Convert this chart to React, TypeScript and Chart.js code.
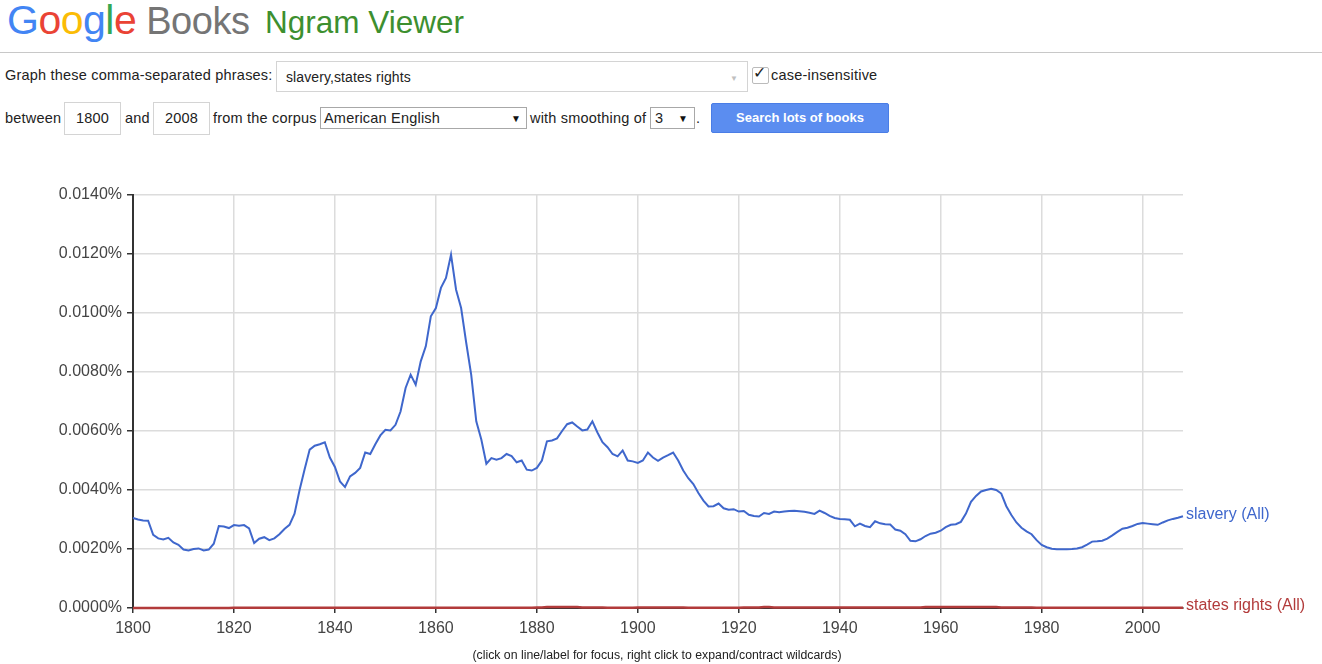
import React, { useEffect, useRef } from "react";
import { Chart, registerables } from "chart.js";

Chart.register(...registerables);

// ---------- data ----------
const startYear = 1800;

// slavery (All), percent, one value per year 1800..2008
const slavery = [
  0.00305, 0.00300, 0.00297, 0.00296, 0.00248, 0.00236, 0.00232, 0.00238, 0.00222, 0.00214,
  0.00198, 0.00195, 0.00200, 0.00202, 0.00195, 0.00198, 0.00218, 0.00278, 0.00276, 0.00271,
  0.00281, 0.00279, 0.00281, 0.00270, 0.00220, 0.00235, 0.00240, 0.00230, 0.00236, 0.00250,
  0.00268, 0.00282, 0.00320, 0.00400, 0.00470, 0.00537, 0.00550, 0.00555, 0.00562, 0.00510,
  0.00478, 0.00429, 0.00410, 0.00446, 0.00458, 0.00475, 0.00527, 0.00522, 0.00555, 0.00585,
  0.00604, 0.00602, 0.00621, 0.00666, 0.00746, 0.00791, 0.00757, 0.00836, 0.00887, 0.00989,
  0.01017, 0.01085, 0.01119, 0.01198, 0.01079, 0.01017, 0.00900, 0.00790, 0.00633, 0.00571,
  0.00489, 0.00508, 0.00503, 0.00508, 0.00522, 0.00515, 0.00494, 0.00500, 0.00469, 0.00466,
  0.00475, 0.00500, 0.00565, 0.00568, 0.00575, 0.00600, 0.00623, 0.00629, 0.00615, 0.00602,
  0.00605, 0.00633, 0.00595, 0.00562, 0.00545, 0.00522, 0.00514, 0.00534, 0.00500, 0.00497,
  0.00492, 0.00500, 0.00527, 0.00510, 0.00499, 0.00510, 0.00518, 0.00527, 0.00500, 0.00466,
  0.00440, 0.00420, 0.00390, 0.00364, 0.00344, 0.00345, 0.00354, 0.00338, 0.00333, 0.00335,
  0.00327, 0.00329, 0.00316, 0.00312, 0.00310, 0.00322, 0.00319, 0.00327, 0.00325, 0.00327,
  0.00329, 0.00330, 0.00328, 0.00326, 0.00323, 0.00319, 0.00330, 0.00322, 0.00312, 0.00305,
  0.00302, 0.00301, 0.00299, 0.00277, 0.00286, 0.00278, 0.00274, 0.00294, 0.00287, 0.00284,
  0.00283, 0.00266, 0.00262, 0.00250, 0.00228, 0.00226, 0.00233, 0.00244, 0.00252, 0.00255,
  0.00262, 0.00274, 0.00282, 0.00284, 0.00292, 0.00320, 0.00360, 0.00380, 0.00395, 0.00400,
  0.00404, 0.00400, 0.00388, 0.00345, 0.00315, 0.00290, 0.00272, 0.00260, 0.00250, 0.00230,
  0.00214, 0.00206, 0.00201, 0.00199, 0.00199, 0.00199, 0.00200, 0.00202, 0.00206, 0.00215,
  0.00225, 0.00226, 0.00228, 0.00235, 0.00246, 0.00258, 0.00269, 0.00272, 0.00278, 0.00285,
  0.00288, 0.00286, 0.00284, 0.00282, 0.00290, 0.00297, 0.00302, 0.00306, 0.00311,
];

// states rights (All), percent, one value per year 1800..2008
const statesRights = [
  0.00000, 0.00000, 0.00000, 0.00000, 0.00000, 0.00000, 0.00000, 0.00000, 0.00000, 0.00000,
  0.00000, 0.00000, 0.00000, 0.00000, 0.00000, 0.00000, 0.00000, 0.00000, 0.00000, 0.00000,
  0.00001, 0.00001, 0.00001, 0.00001, 0.00001, 0.00001, 0.00001, 0.00001, 0.00001, 0.00001,
  0.00001, 0.00001, 0.00001, 0.00001, 0.00001, 0.00001, 0.00001, 0.00001, 0.00001, 0.00001,
  0.00001, 0.00001, 0.00001, 0.00001, 0.00001, 0.00001, 0.00001, 0.00001, 0.00001, 0.00001,
  0.00001, 0.00001, 0.00001, 0.00001, 0.00001, 0.00001, 0.00001, 0.00001, 0.00001, 0.00001,
  0.00001, 0.00001, 0.00001, 0.00001, 0.00001, 0.00001, 0.00001, 0.00001, 0.00001, 0.00001,
  0.00001, 0.00001, 0.00001, 0.00001, 0.00001, 0.00001, 0.00001, 0.00001, 0.00001, 0.00001,
  0.00002, 0.00002, 0.00003, 0.00003, 0.00003, 0.00003, 0.00003, 0.00003, 0.00003, 0.00002,
  0.00002, 0.00002, 0.00002, 0.00002, 0.00001, 0.00001, 0.00001, 0.00001, 0.00001, 0.00001,
  0.00002, 0.00002, 0.00002, 0.00002, 0.00002, 0.00002, 0.00002, 0.00002, 0.00002, 0.00002,
  0.00001, 0.00001, 0.00001, 0.00001, 0.00001, 0.00001, 0.00001, 0.00001, 0.00001, 0.00001,
  0.00001, 0.00002, 0.00002, 0.00002, 0.00002, 0.00003, 0.00003, 0.00002, 0.00002, 0.00002,
  0.00002, 0.00002, 0.00002, 0.00002, 0.00002, 0.00002, 0.00002, 0.00002, 0.00002, 0.00002,
  0.00002, 0.00002, 0.00002, 0.00002, 0.00002, 0.00002, 0.00002, 0.00002, 0.00002, 0.00002,
  0.00002, 0.00002, 0.00002, 0.00002, 0.00002, 0.00002, 0.00002, 0.00003, 0.00003, 0.00003,
  0.00003, 0.00003, 0.00003, 0.00003, 0.00003, 0.00003, 0.00003, 0.00003, 0.00003, 0.00003,
  0.00003, 0.00003, 0.00002, 0.00002, 0.00002, 0.00002, 0.00002, 0.00002, 0.00002, 0.00001,
  0.00001, 0.00001, 0.00001, 0.00001, 0.00001, 0.00001, 0.00001, 0.00001, 0.00001, 0.00001,
  0.00001, 0.00001, 0.00001, 0.00001, 0.00001, 0.00001, 0.00001, 0.00001, 0.00001, 0.00001,
  0.00001, 0.00001, 0.00001, 0.00001, 0.00001, 0.00001, 0.00001, 0.00001, 0.00001,
];

const seriesLabels = ["slavery (All)", "states rights (All)"];
const xTickYears = [1800, 1820, 1840, 1860, 1880, 1900, 1920, 1940, 1960, 1980, 2000];
const yTickValues = [0, 0.002, 0.004, 0.006, 0.008, 0.01, 0.012, 0.014];
const xMin = 1800;
const xMax = 2008;

// ---------- styles ----------
const BLUE = "#3f67cc";
const RED = "#b23b3b";
const FONT = '"Liberation Sans", Arial, sans-serif';

const endLabels = {
  id: "endLabels",
  afterDatasetsDraw(chart: any) {
    const ctx = chart.ctx;
    ctx.save();
    ctx.font = `16px ${FONT}`;
    ctx.textBaseline = "middle";
    ctx.textAlign = "left";
    chart.data.datasets.forEach((ds: any, i: number) => {
      const meta = chart.getDatasetMeta(i);
      const last = meta.data[meta.data.length - 1];
      if (!last) return;
      ctx.fillStyle = ds.borderColor;
      ctx.fillText(seriesLabels[i], last.x + 3, last.y - 2);
    });
    ctx.restore();
  },
};

function NgramChart() {
  const ref = useRef<HTMLCanvasElement | null>(null);
  useEffect(() => {
    if (!ref.current) return;
    const toPoints = (arr: number[]) => arr.map((v, i) => ({ x: startYear + i, y: v }));
    const chart = new Chart(ref.current, {
      type: "line",
      data: {
        datasets: [
          {
            label: seriesLabels[0],
            data: toPoints(slavery),
            borderColor: BLUE,
            borderWidth: 2,
            pointRadius: 0,
            tension: 0,
            clip: 6,
          },
          {
            label: seriesLabels[1],
            data: toPoints(statesRights),
            borderColor: RED,
            borderWidth: 2.5,
            pointRadius: 0,
            tension: 0,
            clip: 6,
          },
        ],
      },
      plugins: [endLabels],
      options: {
        animation: false,
        responsive: false,
        maintainAspectRatio: false,
        events: [],
        layout: { padding: { left: 0, right: 139, top: 35, bottom: 0 } },
        plugins: { legend: { display: false }, tooltip: { enabled: false } },
        scales: {
          x: {
            type: "linear",
            min: xMin,
            max: xMax,
            afterBuildTicks: (scale: any) => {
              scale.ticks = xTickYears.map((v) => ({ value: v }));
            },
            afterFit: (scale: any) => {
              scale.height = 56;
            },
            grid: {
              color: "#dcdcdc",
              lineWidth: 1.5,
              tickColor: "#333",
              tickLength: 5,
            },
            border: { display: true, color: "#333", width: 2 },
            ticks: {
              color: "#444",
              font: { family: FONT, size: 16 },
              padding: 6,
              maxRotation: 0,
              autoSkip: false,
              callback: (v: any) => String(v),
            },
          },
          y: {
            type: "linear",
            min: 0,
            max: 0.014,
            afterBuildTicks: (scale: any) => {
              scale.ticks = yTickValues.map((v) => ({ value: v }));
            },
            afterFit: (scale: any) => {
              scale.width = 133;
            },
            grid: {
              color: "#dcdcdc",
              lineWidth: 1.5,
              tickColor: "#333",
              tickLength: 6,
            },
            border: { display: true, color: "#333", width: 2 },
            ticks: {
              color: "#444",
              font: { family: FONT, size: 16 },
              padding: 5,
              autoSkip: false,
              callback: (v: any) => Number(v).toFixed(4) + "%",
            },
          },
        },
      },
    });
    return () => chart.destroy();
  }, []);
  return (
    <canvas
      ref={ref}
      width={1322}
      height={504}
      style={{ position: "absolute", left: 0, top: 160, width: 1322, height: 504 }}
    />
  );
}

const abs = (left: number, top: number, extra: any = {}) => ({
  position: "absolute" as const,
  left,
  top,
  whiteSpace: "nowrap" as const,
  ...extra,
});

const txt = {
  fontFamily: FONT,
  fontSize: 14.5,
  letterSpacing: 0.2,
  color: "#222",
  lineHeight: "16px",
};

export default function App() {
  const googleColors = ["#4285F4", "#EA4335", "#FBBC05", "#4285F4", "#34A853", "#EA4335"];
  return (
    <div
      style={{
        position: "absolute",
        left: 0,
        top: 0,
        width: 1322,
        height: 664,
        background: "#fff",
        overflow: "hidden",
        fontFamily: FONT,
      }}
    >
      {/* Title */}
      <div style={abs(7, -3, { fontFamily: FONT, fontSize: 41, lineHeight: "46px", letterSpacing: -0.5 })}>
        {"Google".split("").map((c, i) => (
          <span key={i} style={{ color: googleColors[i] }}>{c}</span>
        ))}
        <span style={{ color: "#757575", fontSize: 38, marginLeft: 10 }}>Books</span>
      </div>
      <div style={abs(265, 4, { fontFamily: FONT, fontSize: 31.5, lineHeight: "36px", color: "#3d8f2f" })}>
        Ngram Viewer
      </div>
      <div style={abs(0, 52, { width: 1322, height: 1, background: "#c8c8c8" })} />

      {/* Row 1 */}
      <div style={abs(5, 67, txt)}>Graph these comma-separated phrases:</div>
      <div
        style={abs(276, 61, {
          width: 470,
          height: 29,
          border: "1px solid #d4d4d4",
          background: "#fff",
        })}
      />
      <div style={abs(286, 69, { ...txt, fontSize: 14, letterSpacing: 0.1 })}>slavery,states rights</div>
      <div style={abs(730, 71, { ...txt, fontSize: 8, color: "#c0c0c0" })}>▼</div>
      <div
        style={abs(752, 67, {
          width: 15,
          height: 15,
          border: "1px solid #bbb",
          borderRadius: 2,
          background: "#fff",
        })}
      />
      <div style={abs(753, 65, { ...txt, fontSize: 16, color: "#222" })}>✓</div>
      <div style={abs(771, 67, txt)}>case-insensitive</div>

      {/* Row 2 */}
      <div style={abs(5, 110, txt)}>between</div>
      <div style={abs(64, 102, { width: 55, height: 31, border: "1px solid #d4d4d4" })} />
      <div style={abs(64, 110, { ...txt, width: 57, textAlign: "center" })}>1800</div>
      <div style={abs(125, 110, txt)}>and</div>
      <div style={abs(153, 102, { width: 55, height: 31, border: "1px solid #d4d4d4" })} />
      <div style={abs(153, 110, { ...txt, width: 57, textAlign: "center" })}>2008</div>
      <div style={abs(213, 110, txt)}>from the corpus</div>
      <div style={abs(320, 107, { width: 205, height: 20, border: "1px solid #a8a8a8" })} />
      <div style={abs(324, 110, txt)}>American English</div>
      <div style={abs(511, 111, { ...txt, fontSize: 10, color: "#111" })}>▼</div>
      <div style={abs(530, 110, txt)}>with smoothing of</div>
      <div style={abs(650, 107, { width: 43, height: 20, border: "1px solid #a8a8a8" })} />
      <div style={abs(655, 110, txt)}>3</div>
      <div style={abs(678, 111, { ...txt, fontSize: 10, color: "#111" })}>▼</div>
      <div style={abs(696, 110, txt)}>.</div>
      <div
        style={abs(711, 103, {
          width: 176,
          height: 28,
          background: "#5b8df0",
          border: "1px solid #4a7de6",
          borderRadius: 2,
          color: "#fff",
          fontFamily: FONT,
          fontWeight: "bold",
          fontSize: 13,
          lineHeight: "28px",
          textAlign: "center",
        })}
      >
        Search lots of books
      </div>

      <NgramChart />

      <div
        style={abs(0, 648, {
          width: 1314,
          textAlign: "center",
          fontFamily: FONT,
          fontSize: 12.3,
          lineHeight: "14px",
          color: "#222",
        })}
      >
        (click on line/label for focus, right click to expand/contract wildcards)
      </div>
    </div>
  );
}
